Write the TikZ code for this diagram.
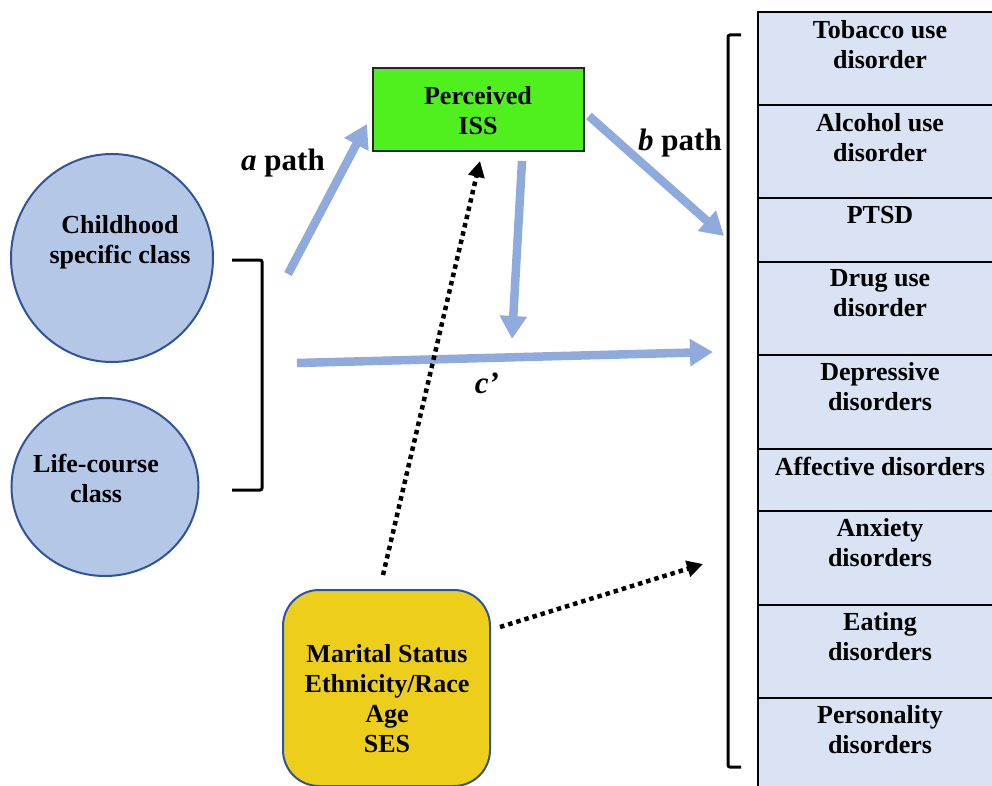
\documentclass[tikz,border=0pt]{standalone}
\usepackage{fontspec}
\setmainfont{Liberation Serif}
\usetikzlibrary{arrows.meta,shapes.geometric}
\definecolor{classfill}{HTML}{B4C7E7}
\definecolor{classedge}{HTML}{2F5597}
\definecolor{outfill}{HTML}{DAE3F3}
\definecolor{issgreen}{HTML}{50F01E}
\definecolor{covyellow}{HTML}{EDCF1B}
\definecolor{pathblue}{HTML}{8FAADC}
\begin{document}
\begin{tikzpicture}[x=1pt,y=-1pt,
  txt/.style={font=\fontsize{26}{30}\selectfont\bfseries, align=center, inner sep=0pt},
  pathlbl/.style={font=\fontsize{31}{34}\selectfont\bfseries, inner sep=0pt},
  classnode/.style={ellipse, draw=classedge, line width=2pt, fill=classfill, inner sep=0pt},
  outbox/.style={rectangle, draw=black, line width=2.2pt, fill=outfill, anchor=north west,
                 minimum width=246pt, inner sep=0pt},
  bluearrow/.style={draw=pathblue, line width=8.5pt,
                    -{Triangle[width=26pt,length=23pt]}},
  dotarrow/.style={draw=black, line width=4.5pt, dash pattern=on 4.5pt off 4pt,
                   -{Triangle[width=16pt,length=16pt]}},
  bracket/.style={draw=black, line width=3pt, rounded corners=2pt}]
\useasboundingbox (0,0) rectangle (992,786);
\clip (0,0) rectangle (992,786);

% exposure classes
\node[classnode, minimum width=202pt, minimum height=208pt] (child) at (112,258) {};
\node[txt] (childtxt) at (120,242) {Childhood\\specific class};
\node[classnode, minimum width=187pt, minimum height=178pt] (life) at (105,487) {};
\node[txt] (lifetxt) at (96,478) {Life-course\\class};
\draw[bracket] (232,260) -- (262,260) -- (262,490) -- (232,490);

% mediator
\node[rectangle, draw=black!85, line width=1.5pt, fill=issgreen, minimum width=211pt,
      minimum height=83pt, inner sep=0pt] (iss) at (478.5,109.5) {};
\node[txt] (isstxt) at (478,111) {Perceived\\ISS};

% covariates
\node[rectangle, rounded corners=36pt, draw=classedge, line width=2pt, fill=covyellow,
      minimum width=207pt, minimum height=196pt, inner sep=0pt] (cov) at (386.5,688) {};
\node[txt] (covtxt) at (387,699) {Marital Status\\Ethnicity/Race\\Age\\SES};

% outcomes
\node[outbox, minimum height=93pt] (o1) at (757,11) {};
\node[outbox, minimum height=93pt] (o2) at (757,104) {};
\node[outbox, minimum height=64pt] (o3) at (757,197) {};
\node[outbox, minimum height=93pt] (o4) at (757,261) {};
\node[outbox, minimum height=94pt] (o5) at (757,354) {};
\node[outbox, minimum height=62pt] (o6) at (757,448) {};
\node[outbox, minimum height=94pt] (o7) at (757,510) {};
\node[outbox, minimum height=93pt] (o8) at (757,604) {};
\node[outbox, minimum height=100pt] (o9) at (757,697) {};
\node[txt] (t1) at (880,44.5) {Tobacco use\\disorder};
\node[txt] (t2) at (880,137.5) {Alcohol use\\disorder};
\node[txt] (t3) at (880,215) {PTSD};
\node[txt] (t4) at (880,293.5) {Drug use\\disorder};
\node[txt] (t5) at (880,387) {Depressive\\disorders};
\node[txt] (t6) at (880,466) {Affective disorders};
\node[txt] (t7) at (880,543) {Anxiety\\disorders};
\node[txt] (t8) at (880,637) {Eating\\disorders};
\node[txt] (t9) at (880,730) {Personality\\disorders};
\draw[bracket] (741,35) -- (728,35) -- (728,767) -- (741,767);

% path endpoints
\coordinate (aS) at (288,274);
\coordinate (aE) at (367,124);
\coordinate (bS) at (589,116);
\coordinate (bE) at (724,236);
\coordinate (mS) at (522,161);
\coordinate (mE) at (512,339);
\coordinate (cS) at (297,363);
\coordinate (cE) at (713,352);
\coordinate (d1S) at (383,575);
\coordinate (d1E) at (480,161);
\coordinate (d2S) at (500,627);
\coordinate (d2E) at (703,564);

\draw[bluearrow] (aS) -- (aE);
\draw[bluearrow] (bS) -- (bE);
\draw[bluearrow] (mS) -- (mE);
\draw[bluearrow] (cS) -- (cE);
\draw[dotarrow] (d1S) -- (d1E);
\draw[dotarrow] (d2S) -- (d2E);

% path labels
\node[pathlbl] (alab) at (283,163) {\textit{a} path};
\node[pathlbl] (blab) at (680,143) {\textit{b} path};
\node[pathlbl] (clab) at (487,383) {\textit{c’}};
\end{tikzpicture}
\end{document}
